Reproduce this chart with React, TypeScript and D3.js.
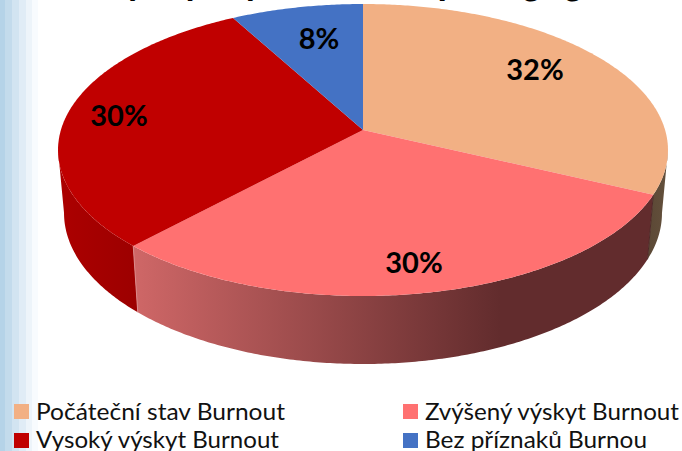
import React from 'react';
import * as d3 from 'd3';

const width = 682;
const height = 451;

const categories = ['Počáteční stav Burnout', 'Zvýšený výskyt Burnout', 'Vysoký výskyt Burnout', 'Bez příznaků Burnou'];
const values = [32, 30, 30, 8];
const valueLabels = ['32%', '30%', '30%', '8%'];
const sliceColors = ['#f2b084', '#ff7171', '#c00000', '#4472c4'];
const stripColors = ['#b5d3e8', '#c3dbec', '#d2e4f1', '#e0ecf6', '#edf4fa', '#f8fbfe'];
const title = 'Výskyt syndromu u pedagogů';

// pie tilt: perspective map from the unit circle to the top face
const cx = 363;
const apexY = 130;
const persp = -0.137;
const scaleX = 302.1;
const scaleY = 143.26;

const topPoint = (a: number): [number, number] => {
  const u = Math.sin(a);
  const v = -Math.cos(a);
  const d = 1 + persp * v;
  return [cx + (scaleX * u) / d, apexY + (scaleY * v) / d];
};

// bottom rim is a slightly narrower copy lower down
const bottomPoint = (a: number): [number, number] => {
  const [x, y] = topPoint(a);
  return [cx + ((x - cx) * 299) / 305, 213 + ((y - 150) * 151) / 146];
};

const pie = d3.pie<number>().sort(null);
const slices = pie(values);
const line = d3.line();

// the wall only shows between the two silhouette angles
const rightEdge = Math.PI / 2 + Math.asin(-persp);
const leftEdge = 2 * Math.PI - rightEdge;

const sweep = (a0: number, a1: number, pt: (a: number) => [number, number]) => {
  const n = Math.max(2, Math.ceil((a1 - a0) / 0.01));
  const angle = d3.scaleLinear().domain([0, n]).range([a0, a1]);
  return d3.range(n + 1).map(i => pt(angle(i)));
};

const topPath = (a0: number, a1: number) =>
  line([[cx, apexY], ...sweep(a0, a1, topPoint)]) + 'Z';

const wallPath = (a0: number, a1: number) => {
  const from = Math.max(a0, rightEdge);
  const to = Math.min(a1, leftEdge);
  if (to <= from) return '';
  return line([...sweep(from, to, topPoint), ...sweep(from, to, bottomPoint).reverse()]) + 'Z';
};

const wallFills = ['url(#wallOrange)', 'url(#wallPink)', 'url(#wallRed)', '#2c4a80'];

// label centres, hand placed like the original chart
const labelPos: [number, number][] = [[535, 68], [414, 261], [119, 114], [319, 37]];
const legendX = [14, 403];
const legendY = [404, 432];
const legendWidths = [249, 254, 243, 222];

const App = () => {
  return (
    <svg
      width={width}
      height={height}
      style={{ position: 'absolute', left: 0, top: 0, background: '#fff' }}
    >
      <defs>
        <linearGradient id="wallPink" gradientUnits="userSpaceOnUse" x1="134" x2="500" y1="0" y2="0">
          <stop offset="0" stopColor="#cf6767" />
          <stop offset="1" stopColor="#622c2d" />
        </linearGradient>
        <linearGradient id="wallRed" gradientUnits="userSpaceOnUse" x1="58" x2="138" y1="0" y2="0">
          <stop offset="0" stopColor="#ac0000" />
          <stop offset="1" stopColor="#9c0000" />
        </linearGradient>
        <linearGradient id="wallOrange" gradientUnits="userSpaceOnUse" x1="650" x2="668" y1="0" y2="0">
          <stop offset="0" stopColor="#5c4936" />
          <stop offset="1" stopColor="#64503c" />
        </linearGradient>
      </defs>

      {stripColors.map((c, i) => (
        <rect key={c} x={[0, 5, 12, 19, 26, 32][i]} y={0} width={[5, 7, 7, 7, 6, 6][i]} height={height} fill={c} />
      ))}

      <text
        x={100}
        y={-7}
        textLength={505}
        lengthAdjust="spacingAndGlyphs"
        fontFamily="Lato, sans-serif"
        fontWeight="bold"
        fontSize={48}
      >
        {title}
      </text>

      {slices.map((s, i) => (
        <path key={'w' + i} d={wallPath(s.startAngle, s.endAngle)} fill={wallFills[i]} />
      ))}
      {slices.slice(0, 2).map((s, i) => (
        <path
          key={'seam' + i}
          d={line([topPoint(s.endAngle), bottomPoint(s.endAngle)]) || ''}
          stroke={i === 0 ? '#4e2a28' : '#dc8a8a'}
          strokeWidth={1}
          fill="none"
        />
      ))}
      {slices.map((s, i) => (
        <path key={'t' + i} d={topPath(s.startAngle, s.endAngle)} fill={sliceColors[i]} />
      ))}

      {slices.map((s, i) => (
        <text
          key={'l' + i}
          x={labelPos[i][0]}
          y={labelPos[i][1]}
          textAnchor="middle"
          dominantBaseline="central"
          fontFamily="Lato, sans-serif"
          fontWeight="bold"
          fontSize={29}
          fill="#000"
        >
          {valueLabels[i]}
        </text>
      ))}

      {categories.map((c, i) => (
        <g key={c}>
          <rect x={legendX[i % 2]} y={legendY[Math.floor(i / 2)] + (i < 2 ? 0 : 1)} width={15} height={15} fill={sliceColors[i]} />
          <text
            x={legendX[i % 2] + 22}
            y={legendY[Math.floor(i / 2)] + 16}
            textLength={legendWidths[i]}
            lengthAdjust="spacingAndGlyphs"
            fontFamily="Lato, sans-serif"
            fontSize={24}
            fill="#111"
          >
            {c}
          </text>
        </g>
      ))}
    </svg>
  );
};

export default App;
